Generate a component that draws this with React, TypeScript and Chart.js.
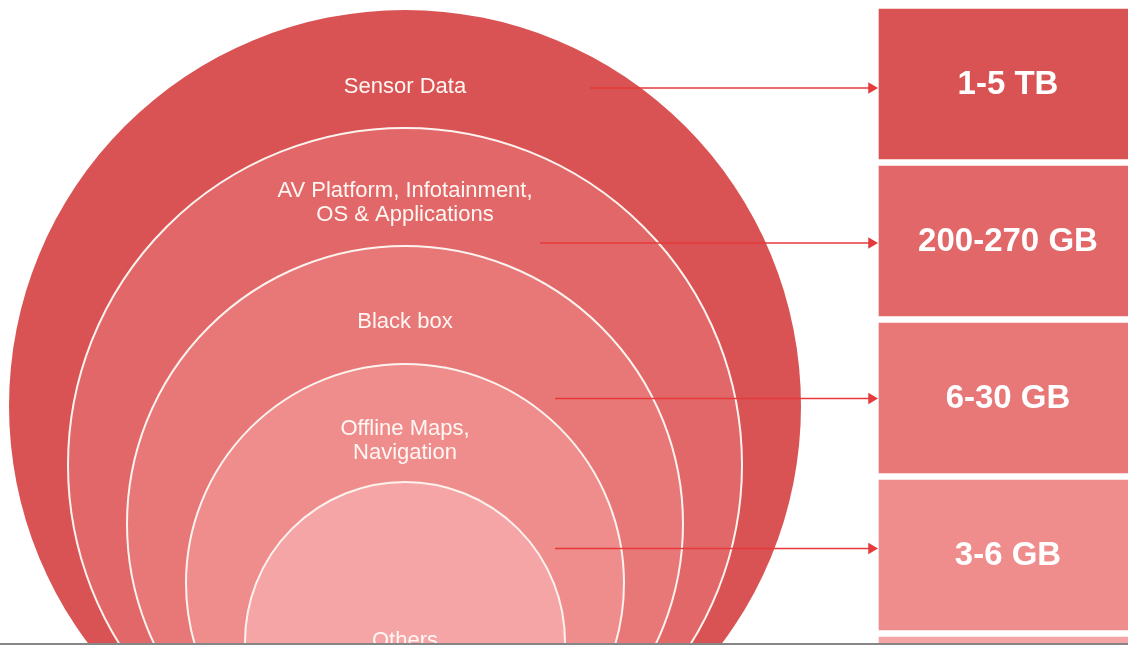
import React, { useEffect, useRef } from "react";
import { Chart, registerables } from "chart.js";

Chart.register(...registerables);

// ---- data ----
const layers: string[] = [
  "Sensor Data",
  "AV Platform, Infotainment,\nOS & Applications",
  "Black box",
  "Offline Maps,\nNavigation",
  "Others",
];
const volumes: string[] = ["1-5 TB", "200-270 GB", "6-30 GB", "3-6 GB", ""];
const arrowTargets: number[] = [0, 1, 2, 3];

// ---- styles / layout ----
const colors = ["#d95354", "#e16768", "#e87778", "#ef8d8d", "#f5a5a5"];
const W = 1128;
const H = 645;
const CX = 405;
const TANGENT_Y = 802;
const R0 = 396;
const R_STEP = 59;
const labelOffsets = [77, 75, 76, 77, 159];
const BOX_X0 = 879;
const BOX_X1 = 1138;
const BOX_Y0 = 84;
const BOX_STEP = 157;
const BOX_H = 150;
const arrowStartX = [590, 540, 555, 555];
const arrowYOffset = [4, 2, 0.5, -6.5];
const ARROW_TIP_X = 878;
const ARROW_R = 6.5;
const ARROW_COLOR = "#e5393b";

const radius = (i: number) => R0 - i * R_STEP;
const rowY = (i: number) => BOX_Y0 + i * BOX_STEP;

export default function App() {
  const ref = useRef<HTMLCanvasElement | null>(null);

  useEffect(() => {
    if (!ref.current) return;

    const textPlugin = {
      id: "infographicText",
      afterDatasetsDraw(c: any) {
        const { ctx, scales } = c;
        const xs = scales.x;
        const ys = scales.y;
        ctx.save();
        ctx.textAlign = "center";
        ctx.textBaseline = "middle";
        ctx.fillStyle = "#fff7f3";
        ctx.font = '22px "Liberation Sans", Arial, Helvetica, sans-serif';
        layers.forEach((label, i) => {
          const top = TANGENT_Y - 2 * radius(i);
          const lines = label.split("\n");
          const cy = top + labelOffsets[i];
          const lh = 24;
          lines.forEach((ln, k) => {
            const y = cy + (k - (lines.length - 1) / 2) * lh;
            ctx.fillText(ln, xs.getPixelForValue(CX), ys.getPixelForValue(y));
          });
        });
        ctx.fillStyle = "#ffffff";
        ctx.font = 'bold 33px "Liberation Sans", Arial, Helvetica, sans-serif';
        volumes.forEach((v, i) => {
          if (!v) return;
          ctx.fillText(v, xs.getPixelForValue(1008), ys.getPixelForValue(rowY(i) + 1));
        });
        ctx.restore();
      },
      afterDraw(c: any) {
        const { ctx } = c;
        ctx.save();
        ctx.fillStyle = "#868686";
        ctx.fillRect(0, H - 2, W, 2);
        ctx.restore();
      },
    };

    const arrowSets = arrowTargets.map((t) => {
      const y = rowY(t) + arrowYOffset[t];
      return {
        type: "scatter" as const,
        showLine: true,
        data: [
          { x: arrowStartX[t], y },
          { x: ARROW_TIP_X - ARROW_R, y },
        ],
        borderColor: ARROW_COLOR,
        borderWidth: 1.3,
        pointRadius: [0, ARROW_R],
        pointStyle: "triangle",
        rotation: 90,
        pointBackgroundColor: ARROW_COLOR,
        pointBorderColor: ARROW_COLOR,
        pointBorderWidth: 0,
        order: 1,
      };
    });

    const chart = new Chart(ref.current, {
      type: "bubble",
      data: {
        datasets: [
          ...arrowSets,
          {
            type: "bar",
            indexAxis: "y",
            data: volumes.map((_, i) => ({ x: [BOX_X0, BOX_X1], y: rowY(i) })),
            backgroundColor: colors,
            borderWidth: 0,
            barThickness: BOX_H,
            order: 2,
          } as any,
          {
            type: "bubble",
            data: layers.map((_, i) => ({ x: CX, y: TANGENT_Y - radius(i), r: radius(i) })),
            backgroundColor: colors,
            borderColor: colors.map((_, i) => (i === 0 ? colors[0] : "#fdf3ee")),
            borderWidth: colors.map((_, i) => (i === 0 ? 0 : 2)),
            order: 3,
          } as any,
        ],
      },
      options: {
        responsive: false,
        animation: false,
        events: [],
        layout: { padding: 0, autoPadding: false },
        plugins: {
          legend: { display: false },
          tooltip: { enabled: false },
        },
        scales: {
          x: { type: "linear", min: 0, max: W, display: false, offset: false, beginAtZero: false },
          y: { type: "linear", min: 0, max: H, reverse: true, display: false, offset: false, beginAtZero: false },
        },
      } as any,
      plugins: [textPlugin],
    });

    return () => chart.destroy();
  }, []);

  return (
    <div style={{ position: "fixed", left: 0, top: 0, width: W, height: H, background: "#ffffff" }}>
      <canvas ref={ref} width={W} height={H} style={{ display: "block", width: W, height: H }} />
    </div>
  );
}
